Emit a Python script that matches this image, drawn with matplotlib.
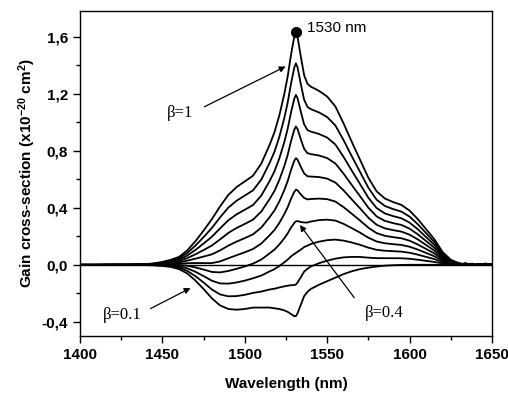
import numpy as np
from matplotlib import pyplot as plt
from matplotlib.ticker import MultipleLocator, FuncFormatter

plt.rcParams['font.family'] = ['Liberation Sans', 'DejaVu Sans']
plt.rcParams['mathtext.fontset'] = 'custom'
plt.rcParams['mathtext.rm'] = 'Liberation Sans'
plt.rcParams['mathtext.bf'] = 'Liberation Sans:bold'
plt.rcParams['mathtext.default'] = 'bf'

# wavelength grid (nm)
wavelength = [1400, 1410, 1420, 1430, 1440, 1445, 1450, 1455, 1460, 1465,
              1470, 1475, 1480, 1485, 1490, 1495, 1500, 1505, 1510, 1515,
              1518, 1521, 1524, 1526, 1528, 1530, 1531, 1532, 1534, 1536,
              1538, 1540, 1545, 1550, 1555, 1560, 1565, 1570, 1575, 1580,
              1585, 1590, 1595, 1600, 1605, 1610, 1615, 1620, 1625, 1628,
              1630, 1632, 1634, 1636, 1638, 1640, 1642, 1644, 1646, 1648,
              1650]

# gain for beta = 1 (emission cross-section)
gain_beta_1 = [0.0, 0.0, 0.001, 0.002, 0.005, 0.01, 0.02, 0.035, 0.055, 0.10,
               0.165, 0.24, 0.32, 0.41, 0.49, 0.545, 0.585, 0.625, 0.71, 0.84,
               0.93, 1.05, 1.20, 1.32, 1.47, 1.60, 1.635, 1.60, 1.46, 1.33,
               1.27, 1.25, 1.22, 1.18, 1.11, 0.99, 0.86, 0.735, 0.61, 0.515,
               0.465, 0.44, 0.42, 0.38, 0.32, 0.25, 0.18, 0.09, 0.035, 0.02,
               0.012, 0.006, 0.011, 0.004, 0.008, 0.0, 0.006, 0.002, 0.009, 0.003,
               0.005]

# gain for beta = 0.1
gain_beta_01 = [0.0, 0.0, 0.0, -0.001, -0.002, -0.004, -0.008, -0.015, -0.03, -0.06,
                -0.11, -0.17, -0.235, -0.285, -0.31, -0.315, -0.31, -0.30, -0.30, -0.30,
                -0.305, -0.31, -0.32, -0.33, -0.345, -0.36, -0.36, -0.34, -0.28, -0.22,
                -0.19, -0.17, -0.14, -0.115, -0.09, -0.065, -0.045, -0.03, -0.02, -0.012,
                -0.006, -0.003, -0.001, 0.0, 0.0, 0.0, 0.0, 0.0, 0.0, 0.0,
                0.0, 0.0, 0.0, 0.0, 0.0, 0.0, 0.0, 0.0, 0.0, 0.0,
                0.0]

betas = [0.1, 0.2, 0.3, 0.4, 0.5, 0.6, 0.7, 0.8, 0.9, 1.0]

wl = np.array(wavelength)
sigma_e = np.array(gain_beta_1)
sigma_a = (0.1 * sigma_e - np.array(gain_beta_01)) / 0.9

fig = plt.figure(figsize=(5.08, 3.94), dpi=100, facecolor='w')
ax = fig.add_axes([0.1575, 0.147, 0.811, 0.825])

ax.axhline(0, color='k', lw=1.0)
for b in betas:
    g = b * sigma_e - (1 - b) * sigma_a
    ax.plot(wl, g, 'k-', lw=1.3)

# peak marker
ax.plot(1531, 1.635, 'ko', ms=7)
ax.text(1537.8, 1.66, '1530 nm', fontsize=11, va='center', ha='left')

arrow = dict(arrowstyle='-|>', color='k', lw=0.9, mutation_scale=9)
serif = ['Liberation Serif', 'DejaVu Serif']
ax.annotate('', xy=(1526.3, 1.40), xytext=(1474, 1.10), arrowprops=arrow)
ax.text(1460.7, 1.067, u'\u03b2=1', fontsize=12, family=serif, ha='center', va='center')
ax.annotate('', xy=(1468.6, -0.154), xytext=(1441.3, -0.316), arrowprops=arrow)
ax.text(1425.5, -0.35, u'\u03b2=0.1', fontsize=12, family=serif, ha='center', va='center')
ax.annotate('', xy=(1532.4, 0.295), xytext=(1567.4, -0.246), arrowprops=arrow)
ax.text(1584.6, -0.337, u'\u03b2=0.4', fontsize=12, family=serif, ha='center', va='center')

ax.set_xlim(1400, 1650)
ax.set_ylim(-0.5, 1.78)
ax.xaxis.set_major_locator(MultipleLocator(50))
ax.xaxis.set_minor_locator(MultipleLocator(25))
ax.yaxis.set_major_locator(MultipleLocator(0.4))
ax.yaxis.set_minor_locator(MultipleLocator(0.2))
ax.yaxis.set_major_formatter(FuncFormatter(lambda v, p: ('%.1f' % v).replace('.', ',')))
ax.tick_params(which='major', direction='out', length=5, width=1, labelsize=11)
ax.tick_params(which='minor', direction='out', length=3, width=1)
for lab in ax.get_xticklabels() + ax.get_yticklabels():
    lab.set_fontweight('bold')
for s in ax.spines.values():
    s.set_linewidth(1.0)

ax.set_xlabel('Wavelength (nm)', fontsize=11, fontweight='bold', labelpad=11)
ax.set_ylabel('Gain cross-section (x10$^{-20}$ cm$^{2}$)', fontsize=11,
              fontweight='bold', labelpad=3)

fig.savefig('out.png', dpi=100, facecolor='w')
